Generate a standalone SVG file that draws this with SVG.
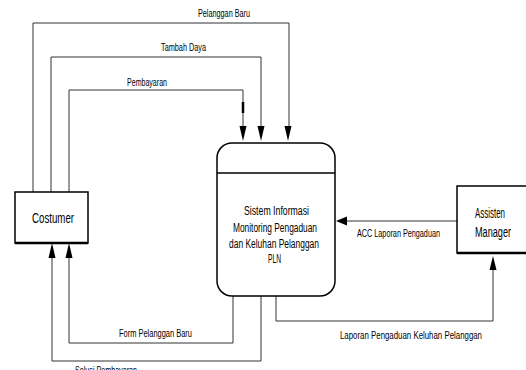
<svg xmlns="http://www.w3.org/2000/svg" width="526" height="370" viewBox="0 0 526 370">
<style>
.ln{fill:none;stroke:#333;stroke-width:1}
.box{fill:#fff;stroke:#000;stroke-width:1.5}
.ah{fill:#000;stroke:none}
text{font-family:"Liberation Sans",Arial,sans-serif;fill:#000}
.lbl{font-size:10.5px}
.nd{font-size:14px;text-anchor:middle}
.pr{font-size:12.5px;text-anchor:middle}
</style>
<rect width="526" height="370" fill="#fff"/>
<g id="connectors">
<polyline class="ln" points="33,192 33,23 289,23 289,128"/>
<polyline class="ln" points="51,192 51,57 261,57 261,128"/>
<polyline class="ln" points="69,192 69,90 243,90 243,128"/>
<line x1="243" y1="102" x2="243" y2="113" stroke="#000" stroke-width="2.5"/>
<polygon class="ah" points="239.5,126 246.5,126 243,141"/>
<polygon class="ah" points="257.5,126 264.5,126 261,141"/>
<polygon class="ah" points="284.5,126 291.5,126 288,141"/>
<polyline class="ln" points="233,296 233,343 69,343 69,256"/>
<polyline class="ln" points="261,296 261,361 52,361 52,256"/>
<polygon class="ah" points="48.5,258 55.5,258 52,243"/>
<polygon class="ah" points="65.5,258 72.5,258 69,243"/>
<polyline class="ln" points="457,221 346,221"/>
<polygon class="ah" points="347,216.5 347,225.5 336,221"/>
<polyline class="ln" points="276,296 276,321 493,321 493,268"/>
<polygon class="ah" points="489.5,270 496.5,270 493,256"/>
<text class="lbl" x="198" y="17" textLength="52" lengthAdjust="spacingAndGlyphs">Pelanggan Baru</text>
<text class="lbl" x="161" y="51" textLength="45" lengthAdjust="spacingAndGlyphs">Tambah Daya</text>
<text class="lbl" x="127" y="86" textLength="40" lengthAdjust="spacingAndGlyphs">Pembayaran</text>
<text class="lbl" x="357" y="237" textLength="83" lengthAdjust="spacingAndGlyphs">ACC Laporan Pengaduan</text>
<text class="lbl" x="340" y="339" textLength="142" lengthAdjust="spacingAndGlyphs">Laporan Pengaduan Keluhan Pelanggan</text>
<text class="lbl" x="119" y="337" textLength="73" lengthAdjust="spacingAndGlyphs">Form Pelanggan Baru</text>
<text class="lbl" x="75" y="374" textLength="62" lengthAdjust="spacingAndGlyphs">Solusi Pembayaran</text>
</g>
<g id="costumer">
<rect class="box" x="15" y="192" width="73" height="51"/>
<line x1="15" y1="243" x2="88" y2="243" stroke="#000" stroke-width="2.5"/>
<text class="nd" x="53" y="223" textLength="42" lengthAdjust="spacingAndGlyphs">Costumer</text>
</g>
<g id="sistem">
<rect class="box" x="217" y="143" width="118" height="153" rx="15" ry="15"/>
<line x1="217" y1="173" x2="335" y2="173" stroke="#000" stroke-width="1.5"/>
<text class="pr" x="276.5" y="215" textLength="65" lengthAdjust="spacingAndGlyphs">Sistem Informasi</text>
<text class="pr" x="275" y="231.5" textLength="84" lengthAdjust="spacingAndGlyphs">Monitoring Pengaduan</text>
<text class="pr" x="274" y="248" textLength="90" lengthAdjust="spacingAndGlyphs">dan Keluhan Pelanggan</text>
<text class="pr" x="274.5" y="263" textLength="13" lengthAdjust="spacingAndGlyphs">PLN</text>
</g>
<g id="assisten">
<rect class="box" x="457" y="186" width="75" height="67"/>
<line x1="457" y1="253" x2="532" y2="253" stroke="#000" stroke-width="2.5"/>
<text class="nd" x="490" y="218" textLength="30" lengthAdjust="spacingAndGlyphs">Assisten</text>
<text class="nd" x="493" y="237" textLength="36" lengthAdjust="spacingAndGlyphs">Manager</text>
</g>
</svg>
